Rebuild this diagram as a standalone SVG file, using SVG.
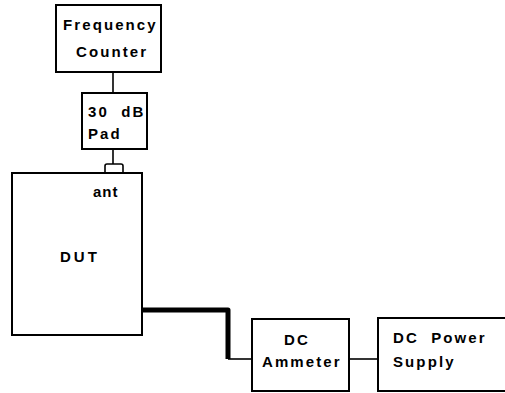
<svg xmlns="http://www.w3.org/2000/svg" width="505" height="393" viewBox="0 0 505 393">
<style>
.box{fill:#fff;stroke:#000;stroke-width:2}
.t{font-family:"Liberation Sans",Arial,sans-serif;font-size:15px;font-weight:bold;letter-spacing:2.1px;word-spacing:6px;fill:#000}
.c{fill:none;stroke:#000;stroke-width:1.6}
.thick{fill:none;stroke:#000;stroke-width:5;stroke-linejoin:round}
</style>
<rect width="505" height="393" fill="#fff"/>
<g id="connectors">
<line class="c" x1="113" y1="72" x2="113" y2="93"/>
<line class="c" x1="113" y1="149" x2="113" y2="164"/>
<path class="thick" d="M142,310 L228,310 L228,359"/>
<line class="c" x1="228" y1="359" x2="252" y2="359"/>
<line class="c" x1="349" y1="359" x2="378" y2="359"/>
</g>
<g id="freq-counter">
<rect class="box" x="56" y="5" width="105" height="67"/>
<text class="t" x="63" y="30">Frequency</text>
<text class="t" x="76" y="57">Counter</text>
</g>
<g id="pad">
<rect class="box" x="82" y="93" width="65" height="56"/>
<text class="t" x="88" y="117">30 dB</text>
<text class="t" x="88" y="139">Pad</text>
</g>
<g id="dut">
<path class="c" d="M105,173 L105,166 Q105,164 107,164 L121,164 Q123,164 123,166 L123,173"/>
<rect class="box" x="12" y="173" width="130" height="162"/>
<text class="t" x="93" y="197" style="letter-spacing:1px">ant</text>
<text class="t" x="60" y="262" style="letter-spacing:3px">DUT</text>
</g>
<g id="ammeter">
<rect class="box" x="252" y="319" width="97" height="72"/>
<text class="t" x="284" y="345">DC</text>
<text class="t" x="262" y="367">Ammeter</text>
</g>
<g id="power-supply">
<rect class="box" x="378" y="318" width="140" height="73"/>
<text class="t" x="393" y="343">DC Power</text>
<text class="t" x="393" y="367">Supply</text>
</g>
</svg>
